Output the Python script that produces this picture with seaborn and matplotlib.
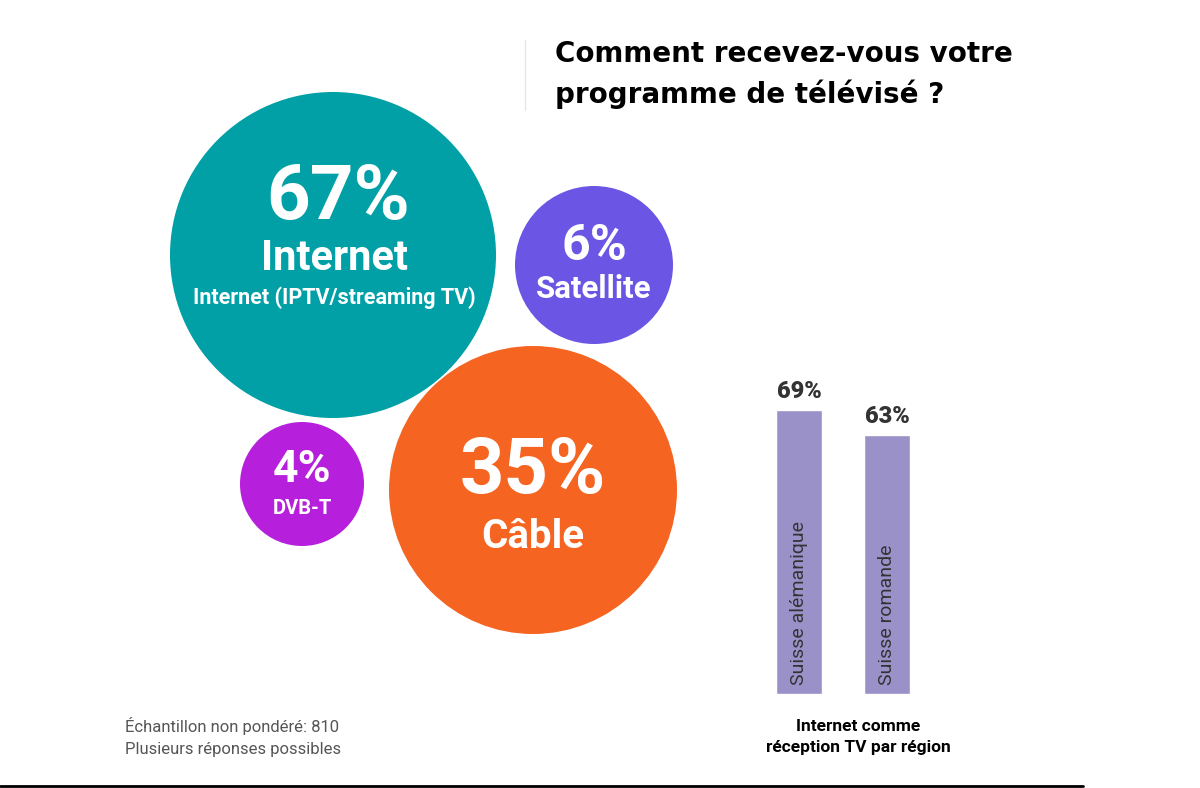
import matplotlib
matplotlib.use("Agg")
import matplotlib.pyplot as plt
from matplotlib.patches import Circle
import seaborn as sns
import pandas as pd

# Données
modes = ["Internet", "Satellite", "Câble", "DVB-T"]
parts = [67, 6, 35, 4]
sous_titres = ["Internet (IPTV/streaming TV)", "", "", ""]

regions = ["Suisse alémanique", "Suisse romande"]
internet_region = [69, 63]

titre = "Comment recevez-vous votre\nprogramme de télévisé ?"
note = "Échantillon non pondéré: 810\nPlusieurs réponses possibles"
legende_barres = "Internet comme\nréception TV par région"

# Mise en page des bulles (pixels) : centre, rayon, y du %, y du nom
centres = [(333, 255), (594, 265), (533, 490), (302, 484)]
rayons = [163, 79, 144, 62]
couleurs = ["#00A0A6", "#6A55E4", "#F56420", "#B620DC"]
taille_pct = [55, 36, 56, 32]
taille_nom = [30, 22.5, 29, 14.5]
y_pct = [198, 246, 472, 470]
y_nom = [258, 289, 537, 508]

sns.set_theme(style="white")
plt.rcParams["font.family"] = ["Roboto", "DejaVu Sans"]

fig = plt.figure(figsize=(12, 7.88), dpi=100)
fig.patch.set_facecolor("white")

# Axe plein cadre en pixels
bg = fig.add_axes([0, 0, 1, 1])
bg.set_xlim(0, 1200)
bg.set_ylim(788, 0)
bg.axis("off")

for (cx, cy), r, c, nom, p, st, tp, tn, yp, yn in zip(
        centres, rayons, couleurs, modes, parts, sous_titres,
        taille_pct, taille_nom, y_pct, y_nom):
    bg.add_patch(Circle((cx, cy), r, color=c, lw=0))
    xp = cx + 5 if st else cx
    bg.text(xp, yp, f"{p}%", ha="center", va="center", color="white",
            fontsize=tp, fontweight="bold")
    bg.text(cx + (2 if st else 0), yn, nom, ha="center", va="center",
            color="white", fontsize=tn, fontweight="bold")
    if st:
        bg.text(cx + 1, 298, st, ha="center", va="center", color="white",
                fontsize=15.5, fontweight="bold")

# Titre
bg.text(555, 74.5, titre, ha="left", va="center", fontsize=20, fontweight="bold",
        family=["DejaVu Sans"], color="black", linespacing=1.52)
bg.plot([525, 525], [40, 110], color="#e6e6e6", lw=1)

# Note
bg.text(125, 737, note, ha="left", va="center", fontsize=12, color="#555555",
        linespacing=1.62)

# Ligne du bas
bg.plot([0, 1083], [786, 786], color="black", lw=2)

# Barres par région
df = pd.DataFrame({"region": regions, "valeur": internet_region})
ax = fig.add_axes([755 / 1200, (788 - 694) / 788, 176 / 1200, 308.7 / 788])
sns.barplot(data=df, x="region", y="valeur", color="#9A91C9", width=0.523,
            saturation=1, ax=ax)
ax.set_xlim(-0.5, 1.5)
ax.set_ylim(0, 75)
ax.axis("off")
for i, (reg, v) in enumerate(zip(regions, internet_region)):
    ax.text(i, v + 2.9, f"{v}%", ha="center", va="baseline", fontsize=17,
            fontweight="heavy", color="#333333")
    ax.text(i, 2.2, reg, ha="center", va="bottom", rotation=90, fontsize=14,
            color="#333333")

bg.text(858, 737, legende_barres, ha="center", va="center", fontsize=12.5,
        fontweight="bold", color="black", linespacing=1.5)

fig.savefig("out.png", dpi=100, facecolor="white")
